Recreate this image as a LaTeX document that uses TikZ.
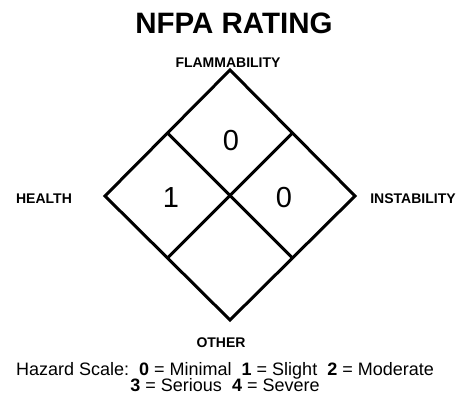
\documentclass[tikz,border=0pt]{standalone}
\usepackage{fontspec}
\setmainfont{Liberation Sans}
\usetikzlibrary{calc}
\begin{document}
\begin{tikzpicture}[x=1pt,y=-1pt,
  frame/.style={line width=3pt,line join=miter},
  rating/.style={inner sep=0pt,font=\fontsize{29}{29}\selectfont},
  sidelabel/.style={inner sep=0pt,anchor=base,font=\bfseries\fontsize{14}{14}\selectfont},
  scaleline/.style={inner sep=0pt,anchor=base,font=\fontsize{18}{17}\selectfont}]
  \useasboundingbox (0,0) rectangle (461,404);
  % title
  \node[inner sep=0pt,anchor=base,font=\bfseries\fontsize{29.5}{29.5}\selectfont] (title) at (234,33.5) {NFPA RATING};
  % diamond corners and edge midpoints
  \coordinate (top) at (230,70);
  \coordinate (left) at (105,196);
  \coordinate (right) at (355,196);
  \coordinate (bottom) at (230,320);
  \coordinate (tl) at ($(top)!0.5!(left)$);
  \coordinate (tr) at ($(top)!0.5!(right)$);
  \coordinate (bl) at ($(bottom)!0.5!(left)$);
  \coordinate (br) at ($(bottom)!0.5!(right)$);
  \draw[frame] (top) -- (right) -- (bottom) -- (left) -- cycle;
  \draw[frame] (tl) -- (br);
  \draw[frame] (tr) -- (bl);
  % ratings
  \node[rating] (flam) at (231,140.5) {0};
  \node[rating] (health) at (171,198) {1};
  \node[rating] (inst) at (284,198) {0};
  % quadrant labels
  \node[sidelabel] (lflam) at (228,67.3) {FLAMMABILITY};
  \node[sidelabel] (lhealth) at (44,203.3) {HEALTH};
  \node[sidelabel] (linst) at (413,203.3) {INSTABILITY};
  \node[sidelabel] (lother) at (221,347.7) {OTHER};
  % hazard scale legend
  \node[scaleline] (scale1) at (225,375) {Hazard Scale:\ \ \textbf{0} = Minimal\ \ \textbf{1} = Slight\ \ \textbf{2} = Moderate};
  \node[scaleline] (scale2) at (225,391.7) {\textbf{3} = Serious\ \ \textbf{4} = Severe};
\end{tikzpicture}
\end{document}
